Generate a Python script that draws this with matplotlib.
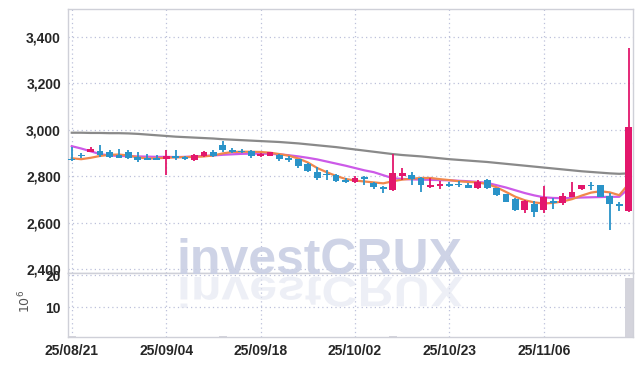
import matplotlib
matplotlib.use("Agg")
import matplotlib.pyplot as plt
import numpy as np
import pandas as pd
from matplotlib import font_manager
from matplotlib.textpath import TextPath
from matplotlib.patches import PathPatch
from matplotlib.transforms import Affine2D

# %% Data.
dates = pd.bdate_range("2025-08-21", "2025-11-19")
holidays = pd.to_datetime(["2025-10-03", "2025-10-06", "2025-10-07", "2025-10-08", "2025-10-09"])
dates = dates.drop(holidays)

opens = [2875, 2888, 2906, 2909, 2903, 2894, 2907, 2885, 2877, 2880,
         2874, 2883, 2883, 2871, 2886, 2903, 2935, 2914, 2907, 2909,
         2886, 2888, 2894, 2878, 2873, 2853, 2819, 2810, 2806, 2784,
         2776, 2792, 2770, 2755, 2740, 2801, 2808, 2791, 2755, 2758,
         2768, 2763, 2765, 2751, 2784, 2748, 2722, 2702, 2656, 2682,
         2656, 2689, 2684, 2713, 2745, 2760, 2762, 2716, 2676, 2651]
highs = [2925, 2900, 2926, 2935, 2912, 2917, 2912, 2905, 2895, 2890,
         2912, 2912, 2888, 2895, 2908, 2914, 2952, 2922, 2920, 2912,
         2902, 2906, 2897, 2886, 2875, 2856, 2841, 2827, 2812, 2795,
         2800, 2800, 2777, 2760, 2896, 2834, 2820, 2798, 2794, 2782,
         2775, 2779, 2772, 2784, 2790, 2752, 2725, 2708, 2700, 2696,
         2759, 2705, 2728, 2774, 2762, 2774, 2763, 2727, 2690, 3351]
lows = [2868, 2877, 2903, 2883, 2880, 2877, 2874, 2862, 2870, 2870,
        2805, 2871, 2869, 2868, 2883, 2883, 2906, 2902, 2900, 2880,
        2882, 2886, 2868, 2860, 2837, 2818, 2784, 2784, 2775, 2773,
        2771, 2765, 2744, 2729, 2738, 2784, 2765, 2731, 2752, 2745,
        2755, 2753, 2748, 2745, 2746, 2715, 2688, 2651, 2641, 2626,
        2641, 2659, 2676, 2710, 2740, 2742, 2712, 2567, 2650, 2647]
closes = [2870, 2887, 2920, 2891, 2885, 2880, 2878, 2871, 2872, 2872,
          2888, 2881, 2875, 2891, 2903, 2889, 2914, 2907, 2905, 2887,
          2896, 2904, 2876, 2870, 2846, 2824, 2792, 2806, 2780, 2776,
          2794, 2790, 2753, 2745, 2815, 2815, 2787, 2765, 2762, 2766,
          2760, 2761, 2752, 2776, 2751, 2720, 2691, 2656, 2696, 2647,
          2711, 2687, 2716, 2733, 2762, 2758, 2713, 2680, 2674, 3013]
volume = [1.1, 0.4, 0.4, 0.4, 0.4, 0.4, 0.4, 0.4, 0.4, 0.4,
          0.4, 0.4, 0.4, 0.4, 0.4, 0.4, 1.1, 0.4, 0.4, 0.4,
          0.4, 0.4, 0.4, 0.4, 0.4, 0.4, 0.4, 0.4, 0.4, 0.4,
          0.4, 0.4, 0.4, 0.4, 1.1, 0.4, 0.4, 0.4, 0.4, 0.4,
          0.4, 0.4, 0.4, 0.4, 0.4, 0.4, 0.4, 0.4, 0.4, 0.4,
          0.4, 0.4, 0.4, 0.4, 0.4, 0.4, 0.4, 0.4, 0.4, 19.1]  # 10^6

ma_short = [2878, 2874, 2880, 2888, 2893, 2894, 2890, 2882, 2877, 2878,
            2880, 2882, 2883, 2884, 2886, 2890, 2899, 2905, 2906, 2906,
            2905, 2902, 2896, 2889, 2877, 2860, 2836, 2818, 2802, 2789,
            2782, 2778, 2774, 2770, 2779, 2786, 2790, 2793, 2793, 2788,
            2784, 2779, 2776, 2774, 2767, 2753, 2733, 2712, 2697, 2688,
            2683, 2686, 2692, 2702, 2717, 2730, 2736, 2731, 2719, 2768]
ma_mid = [2930, 2920, 2908, 2896, 2890, 2888, 2887, 2886, 2885, 2884,
          2884, 2883, 2884, 2886, 2888, 2890, 2893, 2895, 2897, 2898,
          2898, 2897, 2895, 2891, 2886, 2880, 2873, 2864, 2855, 2846,
          2836, 2826, 2818, 2805, 2792, 2789, 2787, 2786, 2785, 2784,
          2783, 2781, 2779, 2776, 2772, 2762, 2752, 2740, 2728, 2718,
          2710, 2707, 2706, 2707, 2709, 2710, 2711, 2712, 2712, 2748]
ma_long = [2988, 2988, 2987, 2987, 2986, 2986, 2985, 2983, 2980, 2977,
           2974, 2971, 2969, 2967, 2965, 2963, 2960, 2958, 2956, 2954,
           2952, 2950, 2948, 2945, 2942, 2938, 2934, 2930, 2926, 2921,
           2916, 2911, 2906, 2901, 2896, 2892, 2889, 2886, 2882, 2878,
           2874, 2871, 2868, 2865, 2862, 2858, 2854, 2850, 2846, 2842,
           2838, 2834, 2830, 2826, 2822, 2819, 2816, 2813, 2811, 2813]

price_ticks = [2400, 2600, 2800, 3000, 3200, 3400]
volume_ticks = [10, 20]
date_tick_step = 10
watermark = "investCRUX"

# %% Fonts.
names = {f.name for f in font_manager.fontManager.ttflist}
label_font = "Liberation Sans Narrow" if "Liberation Sans Narrow" in names else "Liberation Sans"
plt.rcParams["font.family"] = [label_font, "DejaVu Sans"]

UP = "#e3176c"
DOWN = "#2a93c8"
GRID = "#bcc0da"
SPINE = "#cfd0d8"

# %% Figure.
fig = plt.figure(figsize=(6.42, 3.66), dpi=100)
ax = fig.add_axes([68 / 642, 1 - 272.5 / 366, 564.5 / 642, 264 / 366])
axv = fig.add_axes([68 / 642, 1 - 337.3 / 366, 564.5 / 642, 64.8 / 366], sharex=ax)

x = np.arange(len(opens))
o = np.array(opens, dtype=float)
c = np.array(closes, dtype=float)
up = c >= o
colors = np.where(up, UP, DOWN)
body_low = np.minimum(o, c)
body_h = np.maximum(np.abs(c - o), 6)

ax.vlines(x, lows, highs, color=colors, linewidth=1.3, zorder=3)
ax.bar(x, body_h, bottom=body_low, width=0.72, color=colors, linewidth=0, zorder=4)

ax.plot(x, ma_long, color="#8a8a8a", linewidth=1.6, zorder=2)
ax.plot(x, ma_mid, color="#cc5ae8", linewidth=1.6, zorder=2)
ax.plot(x, ma_short, color="#f0874c", linewidth=1.6, zorder=2)

axv.bar(x, volume, width=0.8, color="#d4d4dc", linewidth=0, zorder=2)

ax.set_xlim(-0.4, 59.4)
ax.set_ylim(2386, 3523)
axv.set_ylim(0.83, 20.77)

tick_pos = x[::date_tick_step]
ax.set_xticks(tick_pos)
axv.set_xticks(tick_pos)
axv.set_xticklabels([d.strftime("%y/%m/%d") for d in dates[::date_tick_step]])
ax.tick_params(axis="x", labelbottom=False)
ax.set_yticks(price_ticks)
ax.set_yticklabels([f"{v:,}" for v in price_ticks])
axv.set_yticks(volume_ticks)

for a in (ax, axv):
    a.grid(True, color=GRID, linestyle=(0, (1, 2.5)), linewidth=0.9)
    a.set_axisbelow(True)
    a.tick_params(length=0, labelsize=10, labelcolor="#262626", pad=5)
    for lbl in a.get_xticklabels() + a.get_yticklabels():
        lbl.set_fontweight("bold")
    for s in a.spines.values():
        s.set_color(SPINE)
        s.set_linewidth(1)
axv.tick_params(axis="x", pad=4.5)
ax.spines["bottom"].set_color("#c4c6d0")

axv.set_ylabel("$10^6$", fontsize=9, color="#555555", family="DejaVu Sans")
axv.yaxis.set_label_coords(-0.062, 0.56)

# %% Watermark and its reflection.
wm_size = 36
fig.text(177 / 642, (366 - 274) / 366, watermark, fontsize=wm_size, fontweight="bold",
         color="#c9cfe4", alpha=0.9, va="baseline", ha="left", zorder=5)
fp = font_manager.FontProperties(family=label_font, weight="bold")
tp = TextPath((0, 0), watermark, size=wm_size * 100 / 72, prop=fp)
refl = PathPatch(tp, facecolor="#e2e5f0", edgecolor="none", alpha=0.6, zorder=5,
                 transform=Affine2D().scale(1, -0.85).translate(177, 366 - 277))
fig.add_artist(refl)

fig.savefig("out.png", dpi=100)
